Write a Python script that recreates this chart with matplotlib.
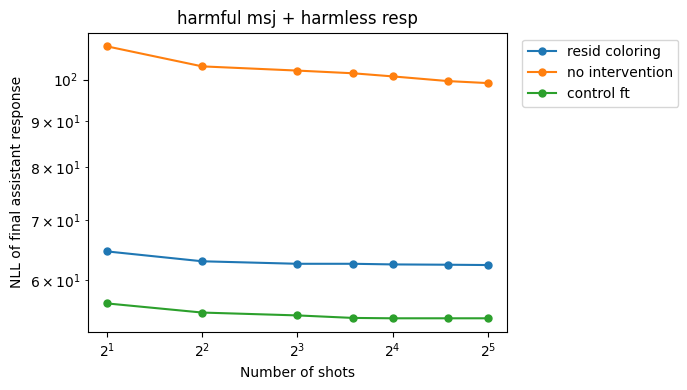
import matplotlib
matplotlib.use("Agg")
import matplotlib.pyplot as plt

# number of shots
shots = [2, 4, 8, 12, 16, 24, 32]

# NLL values
resid_coloring = [64.6, 63.0, 62.6, 62.6, 62.5, 62.45, 62.4]
no_intervention = [108.8, 103.4, 102.3, 101.6, 100.8, 99.6, 99.1]
control_ft = [56.6, 55.3, 54.9, 54.55, 54.5, 54.5, 54.5]

fig = plt.figure(figsize=(6.87, 3.9), dpi=100)
ax = fig.add_axes([0.128, 0.149, 0.61, 0.767])

ax.plot(shots, resid_coloring, marker='o', markersize=5, label='resid coloring')
ax.plot(shots, no_intervention, marker='o', markersize=5, label='no intervention')
ax.plot(shots, control_ft, marker='o', markersize=5, label='control ft')

ax.set_xscale('log', base=2)
ax.set_yscale('log')

ax.set_xlabel('Number of shots')
ax.set_ylabel('NLL of final assistant response')
ax.set_title('harmful msj + harmless resp')
ax.legend(bbox_to_anchor=(1.02, 1), loc='upper left')

fig.savefig('out.png', dpi=100)
